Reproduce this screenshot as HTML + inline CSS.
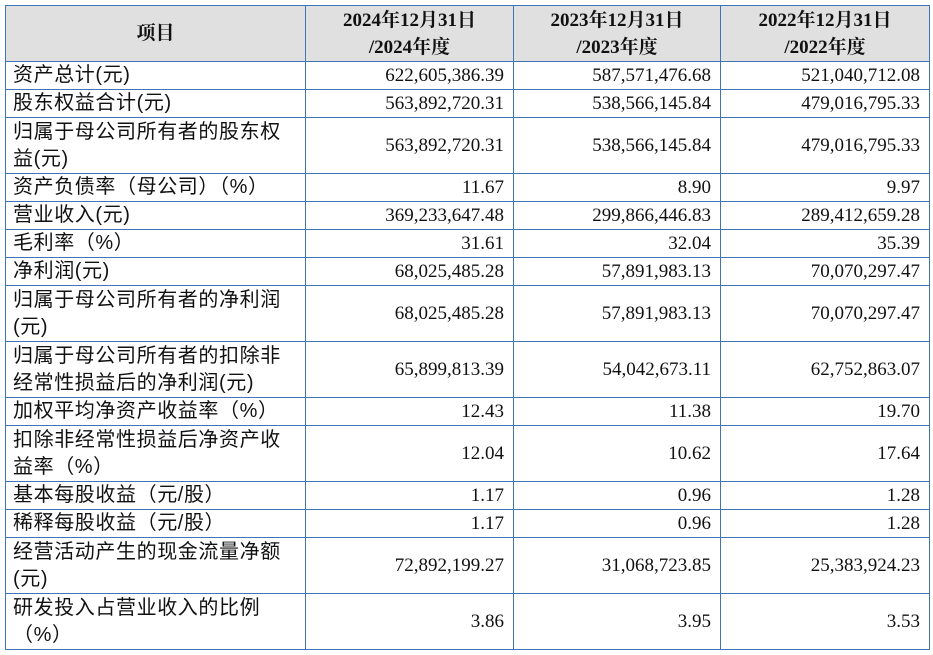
<!DOCTYPE html>
<html><head><meta charset="utf-8"><style>
body{margin:0;width:933px;height:655px;background:#fff;overflow:hidden}
table{position:absolute;left:5px;top:5px;border-collapse:collapse;table-layout:fixed;width:924px}
td,th{border:1px solid #3f75b8;padding:0 8px;box-sizing:border-box;color:#111}
th{background:#e0e0e0;font-family:"Liberation Serif","Noto Serif CJK SC",serif;font-weight:bold;text-align:center;line-height:27px;font-size:19px}
td.l{font-family:"Liberation Sans","Noto Sans CJK SC",sans-serif;text-align:left;line-height:27px;padding-left:7px;padding-right:4px;font-size:20px;letter-spacing:0.6px}
td.n{font-family:"Liberation Serif","Noto Serif CJK SC",serif;text-align:right;padding-right:9px;font-size:19px}
</style></head><body>
<table>
<colgroup><col style="width:300px"><col style="width:208px"><col style="width:207px"><col style="width:209px"></colgroup>
<tr style="height:56px"><th>项目</th><th>2024年12月31日<br>/2024年度</th><th>2023年12月31日<br>/2023年度</th><th>2022年12月31日<br>/2022年度</th></tr>
<tr style="height:28px"><td class="l">资产总计(元)</td><td class="n">622,605,386.39</td><td class="n">587,571,476.68</td><td class="n">521,040,712.08</td></tr>
<tr style="height:28px"><td class="l">股东权益合计(元)</td><td class="n">563,892,720.31</td><td class="n">538,566,145.84</td><td class="n">479,016,795.33</td></tr>
<tr style="height:56px"><td class="l">归属于母公司所有者的股东权<br>益(元)</td><td class="n">563,892,720.31</td><td class="n">538,566,145.84</td><td class="n">479,016,795.33</td></tr>
<tr style="height:28px"><td class="l">资产负债率（母公司）（%）</td><td class="n">11.67</td><td class="n">8.90</td><td class="n">9.97</td></tr>
<tr style="height:28px"><td class="l">营业收入(元)</td><td class="n">369,233,647.48</td><td class="n">299,866,446.83</td><td class="n">289,412,659.28</td></tr>
<tr style="height:28px"><td class="l">毛利率（%）</td><td class="n">31.61</td><td class="n">32.04</td><td class="n">35.39</td></tr>
<tr style="height:28px"><td class="l">净利润(元)</td><td class="n">68,025,485.28</td><td class="n">57,891,983.13</td><td class="n">70,070,297.47</td></tr>
<tr style="height:56px"><td class="l">归属于母公司所有者的净利润<br>(元)</td><td class="n">68,025,485.28</td><td class="n">57,891,983.13</td><td class="n">70,070,297.47</td></tr>
<tr style="height:56px"><td class="l">归属于母公司所有者的扣除非<br>经常性损益后的净利润(元)</td><td class="n">65,899,813.39</td><td class="n">54,042,673.11</td><td class="n">62,752,863.07</td></tr>
<tr style="height:28px"><td class="l">加权平均净资产收益率（%）</td><td class="n">12.43</td><td class="n">11.38</td><td class="n">19.70</td></tr>
<tr style="height:56px"><td class="l">扣除非经常性损益后净资产收<br>益率（%）</td><td class="n">12.04</td><td class="n">10.62</td><td class="n">17.64</td></tr>
<tr style="height:28px"><td class="l">基本每股收益（元/股）</td><td class="n">1.17</td><td class="n">0.96</td><td class="n">1.28</td></tr>
<tr style="height:28px"><td class="l">稀释每股收益（元/股）</td><td class="n">1.17</td><td class="n">0.96</td><td class="n">1.28</td></tr>
<tr style="height:56px"><td class="l">经营活动产生的现金流量净额<br>(元)</td><td class="n">72,892,199.27</td><td class="n">31,068,723.85</td><td class="n">25,383,924.23</td></tr>
<tr style="height:56px"><td class="l">研发投入占营业收入的比例<br>（%）</td><td class="n">3.86</td><td class="n">3.95</td><td class="n">3.53</td></tr>
</table>
</body></html>
